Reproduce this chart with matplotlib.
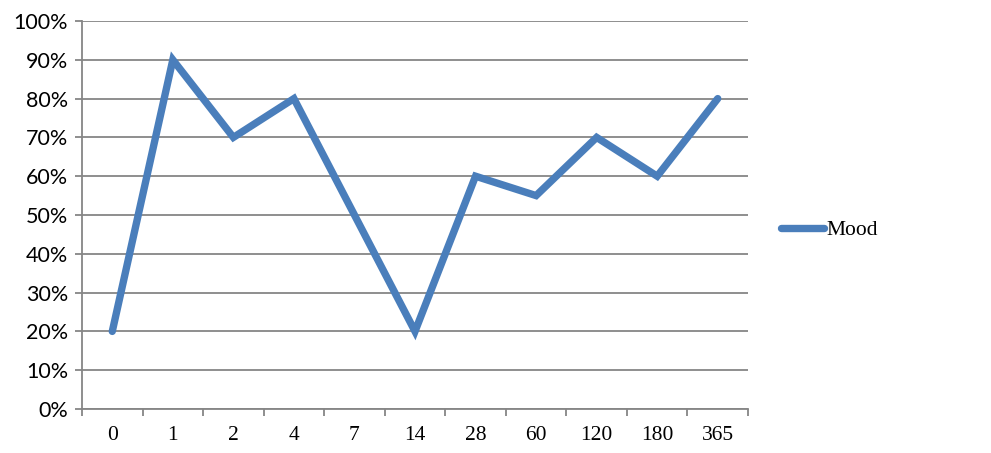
import numpy as np
import matplotlib.pyplot as plt
from matplotlib.ticker import FixedLocator, PercentFormatter

# Dados
dias = ["0", "1", "2", "4", "7", "14", "28", "60", "120", "180", "365"]
mood = [20, 90, 70, 80, 50, 20, 60, 55, 70, 60, 80]

cor_linha = "#4a7ebb"
cor_grade = "#868686"

fig = plt.figure(figsize=(9.91, 4.53), dpi=100)
ax = fig.add_axes([82 / 991, 1 - 409 / 453, (748 - 82) / 991, (409 - 21) / 453])

x = np.arange(len(dias))
ax.plot(x, mood, color=cor_linha, linewidth=5.3, solid_capstyle="round",
        solid_joinstyle="miter", label="Mood", zorder=3)

ax.set_xlim(-0.5, len(dias) - 0.5)
ax.set_ylim(0, 100)
ax.set_yticks(np.arange(0, 101, 10))
ax.yaxis.set_major_formatter(PercentFormatter(decimals=0))
ax.grid(axis="y", color=cor_grade, linewidth=1.3)
ax.set_axisbelow(True)

# rótulos do eixo x no centro, marcas nas divisas
ax.set_xticks(x)
ax.set_xticklabels(dias, family="Liberation Serif", fontsize=15.5)
ax.xaxis.set_minor_locator(FixedLocator(np.arange(-0.5, len(dias), 1)))
ax.tick_params(axis="x", which="major", length=0, pad=12)
ax.tick_params(axis="x", which="minor", length=5, color=cor_grade, width=1.3)
ax.tick_params(axis="y", length=5, color=cor_grade, width=1.3, pad=5)
for lab in ax.get_yticklabels():
    lab.set_family("Lato")
    lab.set_fontsize(15.5)

for s in ["top", "right"]:
    ax.spines[s].set_visible(False)
for s in ["left", "bottom"]:
    ax.spines[s].set_color(cor_grade)
    ax.spines[s].set_linewidth(1.3)

leg = fig.legend(loc="center left", bbox_to_anchor=(781 / 991, 1 - 230 / 453),
                 frameon=False, handlelength=2.0, handletextpad=0.1,
                 borderpad=0, borderaxespad=0,
                 prop={"family": "Liberation Serif", "size": 15.5})

fig.savefig("out.png", dpi=100)
